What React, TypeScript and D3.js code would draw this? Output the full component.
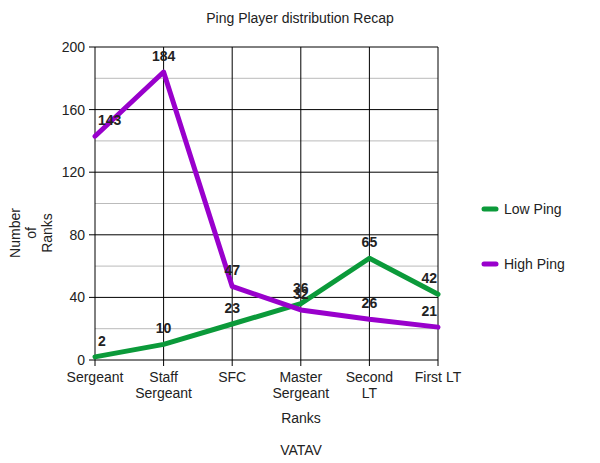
import React from "react";
import * as d3 from "d3";

const categories: string[][] = [
  ["Sergeant"],
  ["Staff", "Sergeant"],
  ["SFC"],
  ["Master", "Sergeant"],
  ["Second", "LT"],
  ["First LT"],
];
const lowPing = [2, 10, 23, 36, 65, 42];
const highPing = [143, 184, 47, 32, 26, 21];
const yTicks = [0, 40, 80, 120, 160, 200];
const yMinor = [20, 60, 100, 140, 180];
const seriesNames = ["Low Ping", "High Ping"];
const seriesColors = ["#0b9a3a", "#9900cc"];

const W = 600;
const H = 463;
const left = 95;
const right = 438;
const top = 47;
const bottom = 360;
const FONT = "'Liberation Sans', Arial, sans-serif";

export default function App() {
  const x = d3
    .scalePoint<number>()
    .domain(categories.map((_, i) => i))
    .range([left, right])
    .padding(0);
  const y = d3.scaleLinear().domain([0, 200]).range([bottom, top]);
  const line = d3
    .line<number>()
    .x((_, i) => x(i) as number)
    .y((d) => y(d));
  const series = [lowPing, highPing];

  const clampLabel = (px: number, txt: string) => {
    const w = txt.length * 7.8;
    return Math.max(left + w / 2 + 3, Math.min(right - w / 2 - 1, px));
  };

  return (
    <svg
      width={W}
      height={H}
      style={{ position: "absolute", left: 0, top: 0, background: "#fff" }}
      fontFamily={FONT}
    >
      <rect x={0} y={0} width={W} height={H} fill="#fff" />
      <text x={300} y={23} textAnchor="middle" fontSize={14} fill="#222">
        Ping Player distribution Recap
      </text>
      {yMinor.map((v) => (
        <line key={"m" + v} x1={left} x2={right} y1={y(v)} y2={y(v)} stroke="#bbb" strokeWidth={1} />
      ))}
      {yTicks.map((v) => (
        <g key={"t" + v}>
          <line x1={left - 6} x2={right} y1={y(v)} y2={y(v)} stroke="#000" strokeWidth={1} />
          <text x={left - 10} y={y(v) + 5} textAnchor="end" fontSize={14} fill="#222">
            {v}
          </text>
        </g>
      ))}
      {categories.map((c, i) => (
        <g key={"c" + i}>
          <line x1={x(i)} x2={x(i)} y1={top} y2={bottom + 6} stroke="#000" strokeWidth={1} />
          {c.map((s, j) => (
            <text key={j} x={x(i)} y={bottom + 22 + j * 16} textAnchor="middle" fontSize={14} fill="#222">
              {s}
            </text>
          ))}
        </g>
      ))}
      <text x={301} y={423} textAnchor="middle" fontSize={14} fill="#222">
        Ranks
      </text>
      <text x={301} y={455} textAnchor="middle" fontSize={14} fill="#222">
        VATAV
      </text>
      <g transform="translate(29,233) rotate(-90)">
        {["Number", "of", "Ranks"].map((s, j) => (
          <text key={j} x={0} y={-9 + j * 16} textAnchor="middle" fontSize={14} fill="#222">
            {s}
          </text>
        ))}
      </g>
      {series.map((s, k) => (
        <path
          key={"l" + k}
          d={line(s) || ""}
          fill="none"
          stroke={seriesColors[k]}
          strokeWidth={5}
          strokeLinejoin="round"
          strokeLinecap="round"
        />
      ))}
      {series.map((s, k) =>
        s.map((v, i) => (
          <text
            key={"v" + k + i}
            x={clampLabel(x(i) as number, String(v))}
            y={y(v) - 11}
            textAnchor="middle"
            fontSize={14}
            fontWeight="bold"
            fill="#222"
          >
            {v}
          </text>
        ))
      )}
      {seriesNames.map((n, k) => (
        <g key={"lg" + k}>
          <line
            x1={484}
            x2={496}
            y1={209 + k * 55}
            y2={209 + k * 55}
            stroke={seriesColors[k]}
            strokeWidth={5}
            strokeLinecap="round"
          />
          <text x={504} y={214 + k * 55} fontSize={14} fill="#222">
            {n}
          </text>
        </g>
      ))}
    </svg>
  );
}
